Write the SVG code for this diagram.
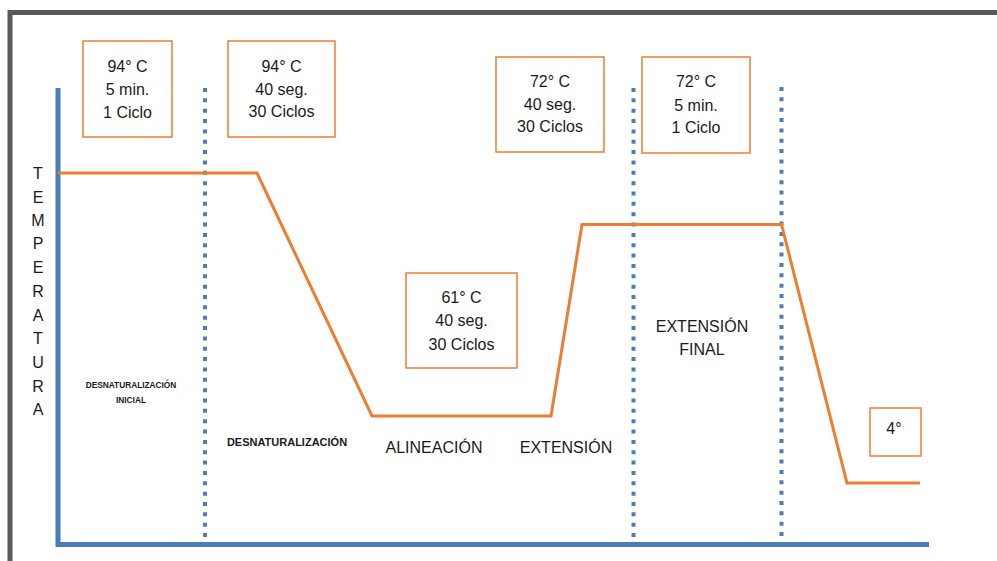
<svg xmlns="http://www.w3.org/2000/svg" width="997" height="561" viewBox="0 0 997 561">
<style>
.frame{fill:none;stroke:#595959;stroke-width:5}
.axis{fill:none;stroke:#4a7ebb;stroke-width:5}
.dots{fill:none;stroke:#4a7ebb;stroke-width:4;stroke-dasharray:4 6.35}
.curve{fill:none;stroke:#ed7d31;stroke-width:3;stroke-linejoin:miter}
.box{fill:#fff;stroke:#ed7d31;stroke-width:1.5}
text{font-family:"Liberation Sans",Arial,sans-serif;fill:#1a1a1a;text-anchor:middle}
.t{font-size:16px}
.b{font-weight:bold;font-size:11px}
.bs{font-weight:bold;font-size:8.3px}
</style>
<rect width="997" height="561" fill="#fff"/>
<path class="frame" d="M10,561 V12.5 H997"/>
<g id="connectors">
<path class="axis" d="M58,88 V544.5 H929"/>
<path class="dots" d="M205,88 V538"/>
<path class="dots" d="M633.5,88 V538"/>
<path class="dots" d="M781.5,87 V538"/>
<path class="curve" d="M58,173 H257 L372,416 H551 L582,224.5 H781.5 L847,483 H920"/>
</g>
<g id="axis-label">
<text class="t" x="38" y="179">T</text>
<text class="t" x="38" y="203">E</text>
<text class="t" x="38" y="226">M</text>
<text class="t" x="38" y="249">P</text>
<text class="t" x="38" y="273">E</text>
<text class="t" x="38" y="297">R</text>
<text class="t" x="38" y="321">A</text>
<text class="t" x="38" y="344">T</text>
<text class="t" x="38" y="368">U</text>
<text class="t" x="38" y="392">R</text>
<text class="t" x="38" y="415">A</text>
</g>
<g id="box1">
<rect class="box" x="83" y="41" width="89" height="96"/>
<text class="t" x="127.5" y="72">94° C</text>
<text class="t" x="127.5" y="95">5 min.</text>
<text class="t" x="127.5" y="118">1 Ciclo</text>
</g>
<g id="box2">
<rect class="box" x="228" y="41" width="107" height="96"/>
<text class="t" x="281.5" y="72">94° C</text>
<text class="t" x="281.5" y="95">40 seg.</text>
<text class="t" x="281.5" y="117">30 Ciclos</text>
</g>
<g id="box3">
<rect class="box" x="496" y="57" width="108" height="95"/>
<text class="t" x="550" y="87">72° C</text>
<text class="t" x="550" y="110">40 seg.</text>
<text class="t" x="550" y="132">30 Ciclos</text>
</g>
<g id="box4">
<rect class="box" x="642" y="57" width="108" height="96"/>
<text class="t" x="696" y="87">72° C</text>
<text class="t" x="696" y="111">5 min.</text>
<text class="t" x="696" y="133">1 Ciclo</text>
</g>
<g id="box5">
<rect class="box" x="406" y="273" width="111" height="95"/>
<text class="t" x="461.5" y="303">61° C</text>
<text class="t" x="461.5" y="326">40 seg.</text>
<text class="t" x="461.5" y="350">30 Ciclos</text>
</g>
<g id="box6">
<rect class="box" x="870" y="408" width="51" height="48"/>
<text class="t" x="894" y="434">4°</text>
</g>
<g id="labels">
<text class="bs" x="131" y="388">DESNATURALIZACIÓN</text>
<text class="bs" x="131" y="403">INICIAL</text>
<text class="b" x="287" y="446">DESNATURALIZACIÓN</text>
<text class="t" x="434" y="453">ALINEACIÓN</text>
<text class="t" x="566" y="453">EXTENSIÓN</text>
<text class="t" x="702" y="332">EXTENSIÓN</text>
<text class="t" x="702" y="355">FINAL</text>
</g>
</svg>
